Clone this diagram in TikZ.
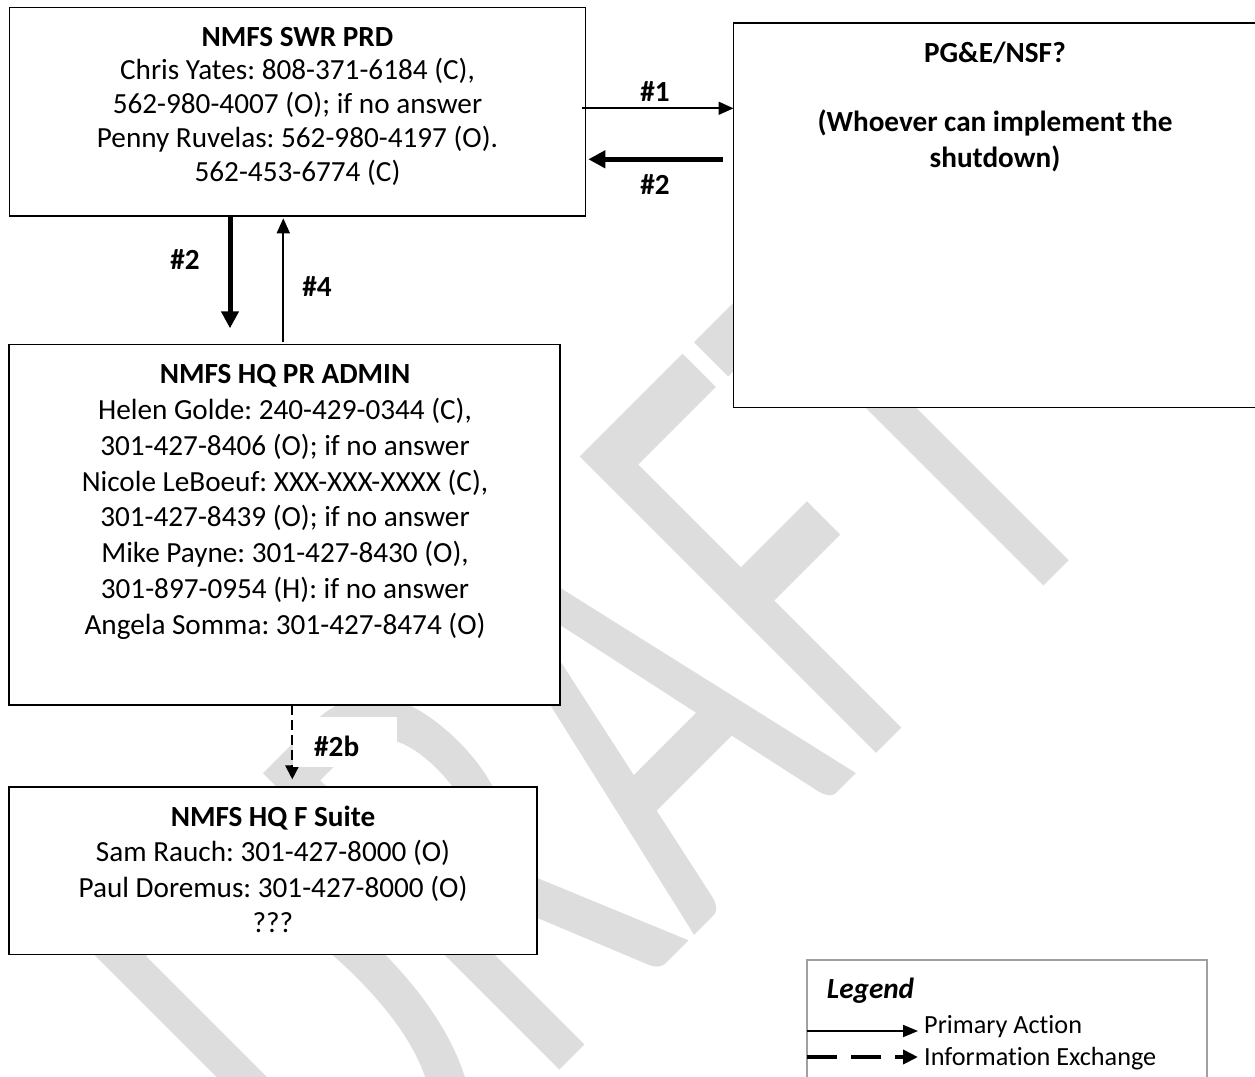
\documentclass[tikz,border=0pt]{standalone}
\usepackage{fontspec}
\setmainfont{Carlito}[Ligatures={NoCommon,NoContextual}]
\newfontfamily\wmfont{Carlito}[Kerning=Off,Ligatures={NoCommon,NoContextual}]
\usetikzlibrary{arrows.meta,calc}
\definecolor{wm}{HTML}{DDDDDD}
\definecolor{lgray}{HTML}{A0A0A0}
\newcommand\fnt[1]{\fontsize{29.2}{#1}\selectfont}
\newcommand\lfnt{\fontsize{26.2}{30}\selectfont}
\frenchspacing
\begin{document}
\begin{tikzpicture}[x=1pt,y=-1pt,
  box/.style={draw, line width=1.8pt, fill=white, inner sep=0pt, outer sep=0pt, anchor=north west},
  txt/.style={align=center, inner sep=0pt, anchor=north},
  lbl/.style={font=\fnt{35}\bfseries, inner sep=0pt},
  pa/.style={line width=1.8pt, -{Triangle[length=15pt,width=13pt]}},
  tk/.style={line width=5pt, -{Triangle[length=17pt,width=17pt]}},
  ie/.style={line width=1.8pt, dash pattern=on 10pt off 5pt, -{Triangle[length=14pt,width=14pt]}},
  ielg/.style={line width=4.5pt, dash pattern=on 30pt off 14pt, -{Triangle[length=15pt,width=14pt]}}]
\useasboundingbox (0,0) rectangle (1255,1076);
\clip (0,0) rectangle (1255,1076);
\fill[white] (0,0) rectangle (1255,1076);
% watermark
\begin{scope}[shift={(365,1265)}, rotate=45, yscale=1.631]
\node[transform shape, anchor=base west, inner sep=0pt, text=wm,
      font=\wmfont\fontsize{400.6}{400}\selectfont] (wmk) at (0,0) {DRAFT};
\end{scope}
% boxes
\node[box, minimum width=576pt, minimum height=208.5pt] (swr) at (9.5,7.5) {};
\node[box, minimum width=525pt, minimum height=384.5pt] (pge) at (733.5,23) {};
\node[box, minimum width=551pt, minimum height=360.5pt] (prad) at (9,344.5) {};
\node[box, minimum width=528pt, minimum height=167.5pt] (fs) at (9,787) {};
\node[box, draw=lgray, minimum width=400pt, minimum height=130pt] (legend) at (807,960) {};
% box texts
\node[txt, font=\fnt{33.75}] (swrt) at (297.5,20.9) {\rule{0pt}{25pt}\textbf{NMFS SWR PRD}\\Chris Yates: 808-371-6184 (C),\\562-980-4007 (O); if no answer\\Penny Ruvelas: 562-980-4197 (O).\\562-453-6774 (C)};
\node[txt, font=\fnt{35.6}\bfseries] (pget) at (995,37.2) {\rule{0pt}{25pt}PG\&E/NSF?\\[33.4pt](Whoever can implement the\\shutdown)};
\node[txt, font=\fnt{35.8}] (pradt) at (285,358.5) {\rule{0pt}{25pt}\textbf{NMFS HQ PR ADMIN}\\Helen Golde: 240-429-0344 (C),\\301-427-8406 (O); if no answer\\Nicole LeBoeuf: XXX-XXX-XXXX (C),\\301-427-8439 (O); if no answer\\Mike Payne: 301-427-8430 (O),\\301-897-0954 (H): if no answer\\Angela Somma: 301-427-8474 (O)};
\node[txt, font=\fnt{35.5}] (fst) at (273,801) {\rule{0pt}{25pt}\textbf{NMFS HQ F Suite}\\Sam Rauch: 301-427-8000 (O)\\Paul Doremus: 301-427-8000 (O)\\???};
% connectors
\coordinate (ya) at (0,108.3);
\coordinate (yb) at (0,159.3);
\coordinate (xa) at (230,0);
\coordinate (xb) at (283.3,0);
\coordinate (xc) at (292.3,0);
\draw[pa] ($(swr.east |- ya)+(-4,0)$) -- (pge.west |- ya);
\draw[tk] ($(pge.west |- yb)+(-10.5,0)$) -- ($(swr.east |- yb)+(2.8,0)$);
\draw[tk] (swr.south -| xa) -- ($(prad.north -| xa)+(0,-16.2)$);
\draw[pa] ($(prad.north -| xb)+(0,-2.8)$) -- ($(swr.south -| xb)+(0,2.3)$);
\draw[ie] (prad.south -| xc) -- ($(fs.north -| xc)+(0,-7.7)$);
% labels
\node[lbl] (l1) at (655,91.7) {\#1};
\node[lbl] (l2) at (655,185) {\#2};
\node[lbl] (l3) at (185,260) {\#2};
\node[lbl] (l4) at (317,287) {\#4};
\node[fill=white, minimum width=103.4pt, minimum height=50pt, inner sep=0pt, outer sep=0pt, anchor=north west] (l2bbg) at (293.3,716.7) {};
\node[lbl] (l2b) at (336.7,746.7) {\#2b};
% legend
\node[anchor=base west, inner sep=0pt, font=\fnt{35}\bfseries\itshape] (lgt) at (826.7,998) {Legend};
\node[anchor=base west, inner sep=0pt, font=\lfnt] (lpa) at (924,1033.5) {Primary Action};
\node[anchor=base west, inner sep=0pt, font=\lfnt] (lie) at (924,1065) {Information Exchange};
\coordinate (lya) at (0,1031);
\coordinate (lyb) at (0,1057);
\draw[line width=1.8pt, -{Triangle[length=15pt,width=12pt]}] (legend.west |- lya) -- ($(lpa.west |- lya)+(-6,0)$);
\draw[ielg] (legend.west |- lyb) -- ($(lie.west |- lyb)+(-6,0)$);
\end{tikzpicture}
\end{document}
